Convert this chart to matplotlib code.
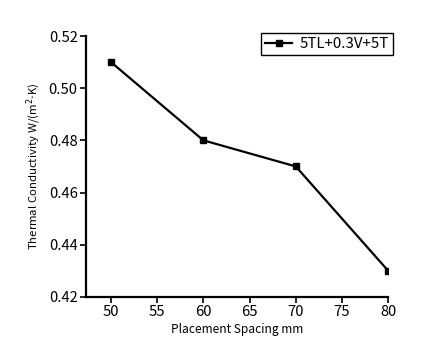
import matplotlib
matplotlib.use('Agg')
import matplotlib.pyplot as plt

plt.rcParams['font.family'] = ['Noto Sans CJK SC', 'DejaVu Sans']

# data
spacing = [50, 60, 70, 80]
conductivity = [0.51, 0.48, 0.47, 0.43]
series_name = '5TL+0.3V+5T'
xticks = [50, 55, 60, 65, 70, 75, 80]
yticks = [0.42, 0.44, 0.46, 0.48, 0.50, 0.52]

fig = plt.figure(figsize=(4.28, 3.53), dpi=100)
ax = fig.add_axes([0.201, 0.159, 0.706, 0.739])

ax.plot(spacing, conductivity, color='black', linewidth=1.6,
        marker='s', markersize=5, label=series_name)

ax.set_xlim(47.3, 80)
ax.set_ylim(0.42, 0.52)
ax.set_xticks(xticks)
ax.set_yticks(yticks)
ax.set_yticklabels(['%.2f' % v for v in yticks])

for s in ['top', 'right']:
    ax.spines[s].set_visible(False)
for s in ['left', 'bottom']:
    ax.spines[s].set_linewidth(1.6)
ax.tick_params(direction='out', length=4, width=1.2, labelsize=10.6, pad=2)

ax.set_xlabel('Placement Spacing mm', fontsize=8.6, labelpad=3)
ax.set_ylabel('Thermal Conductivity W/(m$^2$$\\cdot$K)', fontsize=8.2, labelpad=4)

leg = ax.legend(loc='upper right', fontsize=10.8, fancybox=False,
                edgecolor='black', framealpha=1, handlelength=1.8,
                handletextpad=0.5, borderpad=0.25, borderaxespad=0,
                bbox_to_anchor=(1.015, 1.01))
leg.get_frame().set_linewidth(1.0)

fig.savefig('out.png', dpi=100)
